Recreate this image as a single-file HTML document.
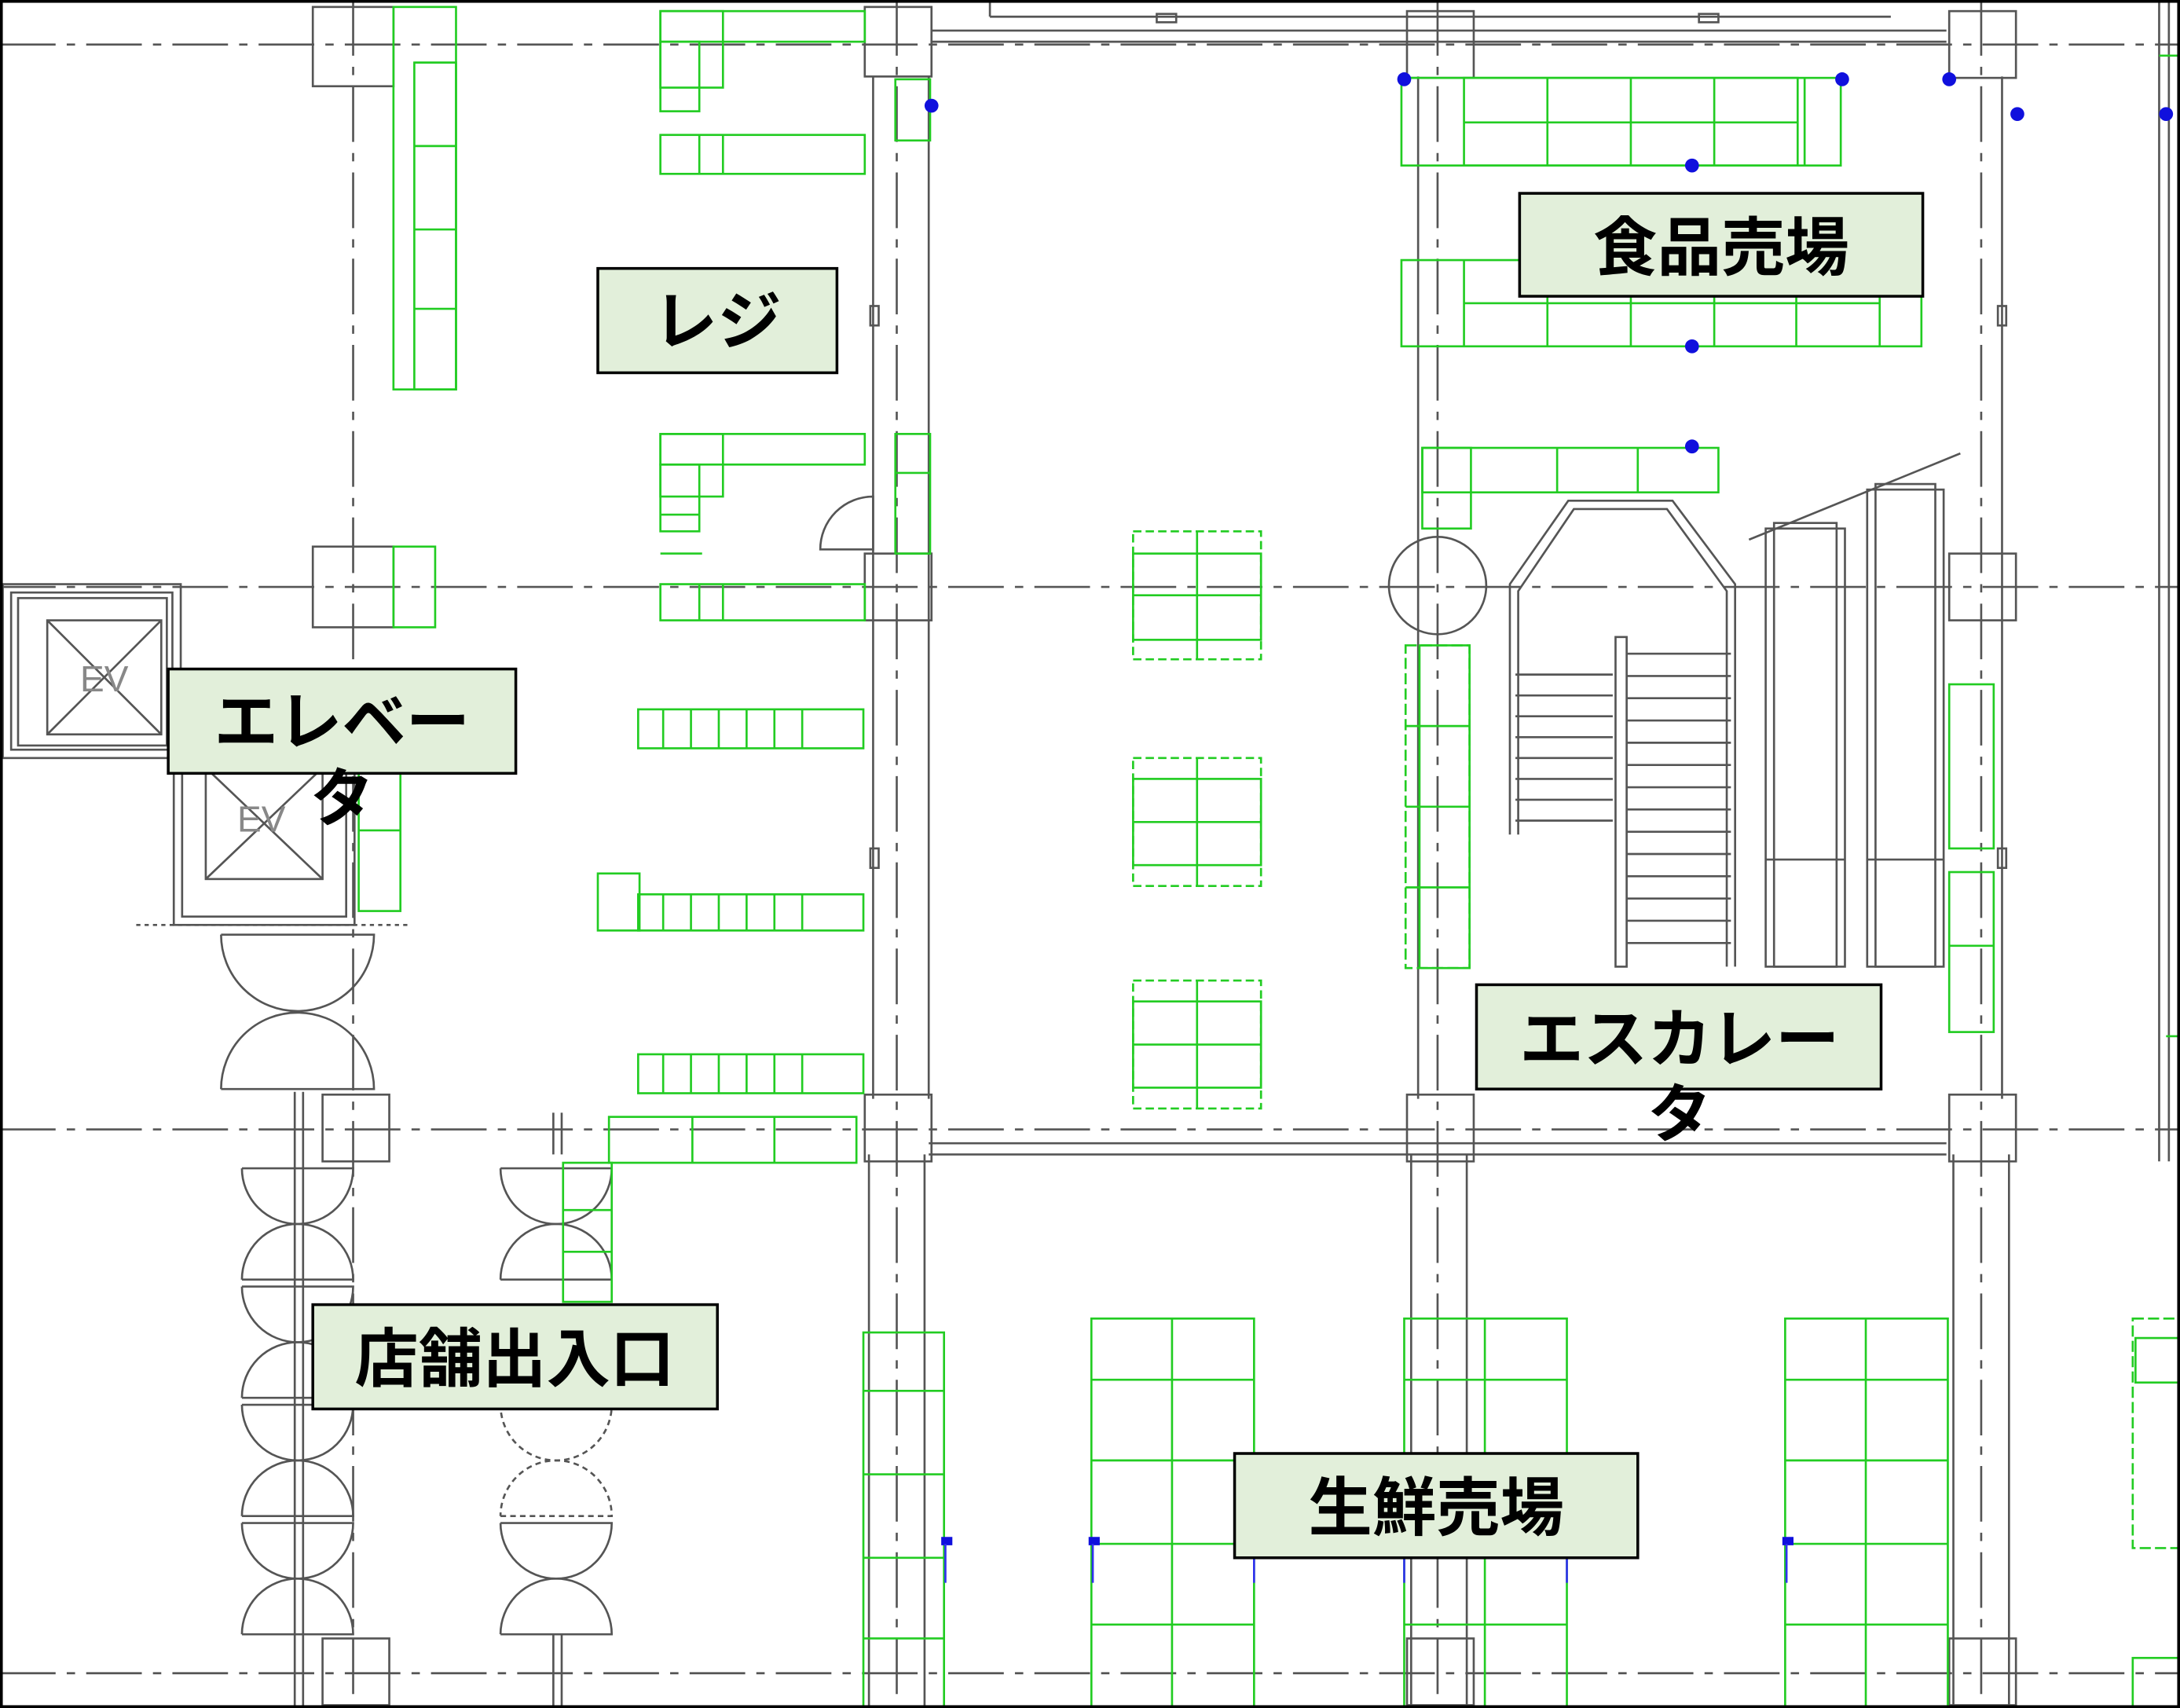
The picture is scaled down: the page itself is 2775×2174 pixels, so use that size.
<!DOCTYPE html>
<html><head><meta charset="utf-8"><style>
html,body{margin:0;padding:0;background:#fff;}
svg{display:block;}
text{font-family:"Liberation Sans","Noto Sans CJK JP",sans-serif;font-weight:bold;}
</style></head><body>
<svg width="2775" height="2174" viewBox="0 0 1568 1228" preserveAspectRatio="none" xmlns="http://www.w3.org/2000/svg">
<rect x="0" y="0" width="1568" height="1228" fill="#fff"/>
<g stroke="#555" stroke-width="1.5" stroke-dasharray="40,8,6,8" fill="none">
<line x1="0" y1="32" x2="1568" y2="32"/>
<line x1="0" y1="422" x2="1568" y2="422"/>
<line x1="0" y1="812" x2="1568" y2="812"/>
<line x1="0" y1="1203" x2="1568" y2="1203"/>
<line x1="254" y1="0" x2="254" y2="1228"/>
<line x1="645" y1="0" x2="645" y2="1228"/>
<line x1="1034" y1="0" x2="1034" y2="1228"/>
<line x1="1425" y1="0" x2="1425" y2="1228"/>
</g>
<g stroke="#555" stroke-width="1.5" fill="none">
<line x1="628" y1="55" x2="628" y2="790"/>
<line x1="668" y1="55" x2="668" y2="790"/>
<line x1="1440" y1="55" x2="1440" y2="790"/>
<line x1="1020" y1="55" x2="1020" y2="790"/>
<line x1="670" y1="30" x2="1400" y2="30"/>
<line x1="670" y1="22" x2="1400" y2="22"/>
<line x1="712" y1="0" x2="712" y2="12"/><line x1="712" y1="12" x2="1360" y2="12"/>
<rect x="832" y="10" width="14" height="6"/><rect x="1222" y="10" width="14" height="6"/>
<line x1="668" y1="822" x2="1400" y2="822"/>
<line x1="668" y1="830" x2="1400" y2="830"/>
<line x1="625" y1="830" x2="625" y2="1228"/><line x1="665" y1="830" x2="665" y2="1228"/>
<line x1="1015" y1="830" x2="1015" y2="1228"/><line x1="1055" y1="830" x2="1055" y2="1228"/>
<line x1="1405" y1="830" x2="1405" y2="1228"/><line x1="1445" y1="830" x2="1445" y2="1228"/>
<rect x="626" y="220" width="6" height="14"/><rect x="626" y="610" width="6" height="14"/>
<rect x="1437" y="220" width="6" height="14"/><rect x="1437" y="610" width="6" height="14"/>
<line x1="212" y1="785" x2="212" y2="1228"/><line x1="218" y1="785" x2="218" y2="1228"/>
<line x1="398" y1="800" x2="398" y2="830"/><line x1="404" y1="800" x2="404" y2="830"/>
<line x1="398" y1="1175" x2="398" y2="1228"/><line x1="404" y1="1175" x2="404" y2="1228"/>
<path d="M590,395 A38,38 0 0 1 628,357 L628,395 Z"/>
<line x1="1553" y1="0" x2="1553" y2="835"/><line x1="1560" y1="0" x2="1560" y2="835"/>
</g>
<g stroke="#555" stroke-width="1.5" fill="none">
<rect x="225" y="5" width="58" height="57"/><rect x="622" y="5" width="48" height="50"/>
<rect x="1012" y="8" width="48" height="48"/><rect x="1402" y="8" width="48" height="48"/>
<rect x="225" y="393" width="58" height="58"/><rect x="622" y="398" width="48" height="48"/>
<rect x="1402" y="398" width="48" height="48"/>
<rect x="232" y="787" width="48" height="48"/><rect x="622" y="787" width="48" height="48"/>
<rect x="1012" y="787" width="48" height="48"/><rect x="1402" y="787" width="48" height="48"/>
<rect x="232" y="1178" width="48" height="48"/><rect x="1012" y="1178" width="48" height="48"/>
<rect x="1402" y="1178" width="48" height="48"/>
<circle cx="1034" cy="421" r="35"/>
</g>
<g stroke="#555" stroke-width="1.5" fill="none">
<rect x="2" y="420" width="128" height="125"/><rect x="8" y="426" width="116" height="113"/><rect x="13" y="430" width="107" height="106"/>
<rect x="34" y="446" width="82" height="82"/><line x1="34" y1="446" x2="116" y2="528"/><line x1="116" y1="446" x2="34" y2="528"/>
<rect x="125" y="545" width="130" height="120"/><rect x="131" y="551" width="118" height="108"/>
<rect x="148" y="552" width="84" height="80"/><line x1="148" y1="552" x2="232" y2="632"/><line x1="232" y1="552" x2="148" y2="632"/>
<line x1="98" y1="665" x2="295" y2="665" stroke-dasharray="3,3"/>
</g>
<text x="75" y="497" font-size="26" fill="#888" text-anchor="middle" style="font-weight:normal">EV</text>
<text x="188" y="598" font-size="26" fill="#888" text-anchor="middle" style="font-weight:normal">EV</text>
<g stroke="#555" stroke-width="1.5" fill="none">
<path d="M159,672 H269 A55,55 0 0 1 159,672"/>
<path d="M159,783 H269 A55,55 0 0 0 159,783"/>
<path d="M174,840 H254 A40,40 0 0 1 174,840"/>
<path d="M174,920 H254 A40,40 0 0 0 174,920"/>
<path d="M174,925 H254 A40,40 0 0 1 174,925"/>
<path d="M174,1005 H254 A40,40 0 0 0 174,1005"/>
<path d="M174,1010 H254 A40,40 0 0 1 174,1010"/>
<path d="M174,1090 H254 A40,40 0 0 0 174,1090"/>
<path d="M174,1095 H254 A40,40 0 0 1 174,1095"/>
<path d="M174,1175 H254 A40,40 0 0 0 174,1175"/>
<path d="M360,840 H440 A40,40 0 0 1 360,840"/>
<path d="M360,920 H440 A40,40 0 0 0 360,920"/>
<path d="M360,1010 H440 A40,40 0 0 1 360,1010" stroke-dasharray="4,3"/>
<path d="M360,1090 H440 A40,40 0 0 0 360,1090" stroke-dasharray="4,3"/>
<path d="M360,1095 H440 A40,40 0 0 1 360,1095"/>
<path d="M360,1175 H440 A40,40 0 0 0 360,1175"/>
</g>
<g stroke="#555" stroke-width="1.5" fill="none">
<path d="M1086,600 V420 L1128,360 H1203 L1248,420 V695"/>
<path d="M1092,600 V425 L1132,366 H1199 L1242,425 V695"/>
<rect x="1162" y="458" width="8" height="237"/>
<g>
<line x1="1090" y1="485" x2="1160" y2="485"/><line x1="1090" y1="500" x2="1160" y2="500"/>
<line x1="1090" y1="515" x2="1160" y2="515"/><line x1="1090" y1="530" x2="1160" y2="530"/>
<line x1="1090" y1="545" x2="1160" y2="545"/><line x1="1090" y1="560" x2="1160" y2="560"/>
<line x1="1090" y1="575" x2="1160" y2="575"/><line x1="1090" y1="590" x2="1160" y2="590"/>
<line x1="1170" y1="470" x2="1245" y2="470"/><line x1="1170" y1="486" x2="1245" y2="486"/>
<line x1="1170" y1="502" x2="1245" y2="502"/><line x1="1170" y1="518" x2="1245" y2="518"/>
<line x1="1170" y1="534" x2="1245" y2="534"/><line x1="1170" y1="550" x2="1245" y2="550"/>
<line x1="1170" y1="566" x2="1245" y2="566"/><line x1="1170" y1="582" x2="1245" y2="582"/>
<line x1="1170" y1="598" x2="1245" y2="598"/><line x1="1170" y1="614" x2="1245" y2="614"/>
<line x1="1170" y1="630" x2="1245" y2="630"/><line x1="1170" y1="646" x2="1245" y2="646"/>
<line x1="1170" y1="662" x2="1245" y2="662"/><line x1="1170" y1="678" x2="1245" y2="678"/>
</g>
<line x1="1258" y1="388" x2="1410" y2="326"/>
<rect x="1270" y="380" width="57" height="315"/><rect x="1276" y="376" width="45" height="319"/>
<rect x="1343" y="352" width="55" height="343"/><rect x="1349" y="348" width="43" height="347"/>
<line x1="1270" y1="618" x2="1327" y2="618"/><line x1="1343" y1="618" x2="1398" y2="618"/>
</g>
<g stroke="#22cc22" stroke-width="1.5" fill="none">
<rect x="283" y="5" width="45" height="275"/><line x1="298" y1="45" x2="328" y2="45"/>
<rect x="298" y="45" width="30" height="235"/><line x1="298" y1="105" x2="328" y2="105"/><line x1="298" y1="165" x2="328" y2="165"/><line x1="298" y1="222" x2="328" y2="222"/>
<rect x="283" y="393" width="30" height="58"/>
<rect x="475" y="8" width="147" height="22"/><rect x="475" y="8" width="45" height="55"/><rect x="475" y="30" width="28" height="50"/>
<rect x="475" y="97" width="147" height="28"/><line x1="503" y1="97" x2="503" y2="125"/><line x1="520" y1="97" x2="520" y2="125"/>
<rect x="644" y="57" width="25" height="44"/>
<rect x="475" y="312" width="147" height="22"/><rect x="475" y="312" width="45" height="45"/><rect x="475" y="334" width="28" height="48"/><line x1="475" y1="370" x2="503" y2="370"/>
<rect x="644" y="312" width="25" height="86"/><line x1="644" y1="340" x2="669" y2="340"/>
<rect x="475" y="420" width="147" height="26"/><line x1="503" y1="420" x2="503" y2="446"/><line x1="520" y1="420" x2="520" y2="446"/>
<line x1="475" y1="398" x2="505" y2="398"/>
<rect x="459" y="510" width="162" height="28"/>
<line x1="477" y1="510" x2="477" y2="538"/><line x1="497" y1="510" x2="497" y2="538"/><line x1="517" y1="510" x2="517" y2="538"/><line x1="537" y1="510" x2="537" y2="538"/><line x1="557" y1="510" x2="557" y2="538"/><line x1="577" y1="510" x2="577" y2="538"/>
<rect x="459" y="643" width="162" height="26"/><rect x="430" y="628" width="30" height="41"/>
<line x1="477" y1="643" x2="477" y2="669"/><line x1="497" y1="643" x2="497" y2="669"/><line x1="517" y1="643" x2="517" y2="669"/><line x1="537" y1="643" x2="537" y2="669"/><line x1="557" y1="643" x2="557" y2="669"/><line x1="577" y1="643" x2="577" y2="669"/>
<rect x="459" y="758" width="162" height="28"/>
<line x1="477" y1="758" x2="477" y2="786"/><line x1="497" y1="758" x2="497" y2="786"/><line x1="517" y1="758" x2="517" y2="786"/><line x1="537" y1="758" x2="537" y2="786"/><line x1="557" y1="758" x2="557" y2="786"/><line x1="577" y1="758" x2="577" y2="786"/>
<rect x="438" y="803" width="178" height="33"/><line x1="498" y1="803" x2="498" y2="836"/><line x1="557" y1="803" x2="557" y2="836"/>
<rect x="405" y="836" width="35" height="100"/><line x1="405" y1="870" x2="440" y2="870"/><line x1="405" y1="900" x2="440" y2="900"/>
<rect x="258" y="555" width="30" height="100"/><line x1="258" y1="597" x2="288" y2="597"/>
<rect x="815" y="382" width="92" height="92" stroke-dasharray="6,3"/><rect x="815" y="398" width="92" height="62"/><line x1="861" y1="382" x2="861" y2="474"/><line x1="815" y1="428" x2="907" y2="428"/>
<rect x="815" y="545" width="92" height="92" stroke-dasharray="6,3"/><rect x="815" y="560" width="92" height="62"/><line x1="861" y1="545" x2="861" y2="637"/><line x1="815" y1="591" x2="907" y2="591"/>
<rect x="815" y="705" width="92" height="92" stroke-dasharray="6,3"/><rect x="815" y="720" width="92" height="62"/><line x1="861" y1="705" x2="861" y2="797"/><line x1="815" y1="751" x2="907" y2="751"/>
<rect x="1008" y="56" width="316" height="63"/><rect x="1053" y="56" width="240" height="63"/><line x1="1053" y1="88" x2="1293" y2="88"/>
<line x1="1113" y1="56" x2="1113" y2="119"/><line x1="1173" y1="56" x2="1173" y2="119"/><line x1="1233" y1="56" x2="1233" y2="119"/><line x1="1298" y1="56" x2="1298" y2="119"/>
<rect x="1008" y="187" width="374" height="62"/><line x1="1053" y1="187" x2="1053" y2="249"/><line x1="1053" y1="218" x2="1352" y2="218"/>
<line x1="1113" y1="213" x2="1113" y2="249"/><line x1="1173" y1="213" x2="1173" y2="249"/><line x1="1233" y1="213" x2="1233" y2="249"/><line x1="1292" y1="213" x2="1292" y2="249"/><line x1="1352" y1="213" x2="1352" y2="249"/>
<rect x="1023" y="322" width="213" height="32"/><rect x="1023" y="322" width="35" height="58"/><line x1="1120" y1="322" x2="1120" y2="354"/><line x1="1178" y1="322" x2="1178" y2="354"/>
<rect x="1011" y="464" width="46" height="232" stroke-dasharray="8,3"/><rect x="1021" y="464" width="36" height="232"/>
<line x1="1011" y1="522" x2="1057" y2="522"/><line x1="1011" y1="580" x2="1057" y2="580"/><line x1="1011" y1="638" x2="1057" y2="638"/>
<rect x="1402" y="492" width="32" height="118"/><rect x="1402" y="627" width="32" height="115"/><line x1="1402" y1="680" x2="1434" y2="680"/>
<line x1="1553" y1="40" x2="1568" y2="40"/><line x1="1558" y1="745" x2="1568" y2="745"/>
<rect x="621" y="958" width="58" height="270"/><line x1="621" y1="1000" x2="679" y2="1000"/><line x1="621" y1="1060" x2="679" y2="1060"/><line x1="621" y1="1120" x2="679" y2="1120"/><line x1="621" y1="1178" x2="679" y2="1178"/>
<rect x="785" y="948" width="117" height="280"/><line x1="843" y1="948" x2="843" y2="1228"/>
<line x1="785" y1="992" x2="902" y2="992"/><line x1="785" y1="1050" x2="902" y2="1050"/><line x1="785" y1="1110" x2="902" y2="1110"/><line x1="785" y1="1168" x2="902" y2="1168"/>
<rect x="1010" y="948" width="117" height="280"/><line x1="1068" y1="948" x2="1068" y2="1228"/>
<line x1="1010" y1="992" x2="1127" y2="992"/><line x1="1010" y1="1050" x2="1127" y2="1050"/><line x1="1010" y1="1110" x2="1127" y2="1110"/><line x1="1010" y1="1168" x2="1127" y2="1168"/>
<rect x="1284" y="948" width="117" height="280"/><line x1="1342" y1="948" x2="1342" y2="1228"/>
<line x1="1284" y1="992" x2="1401" y2="992"/><line x1="1284" y1="1050" x2="1401" y2="1050"/><line x1="1284" y1="1110" x2="1401" y2="1110"/><line x1="1284" y1="1168" x2="1401" y2="1168"/>
<rect x="1534" y="948" width="34" height="165" stroke-dasharray="8,3"/><rect x="1536" y="962" width="32" height="32"/>
<rect x="1534" y="1192" width="34" height="36"/>
</g>
<g fill="#1010dd">
<circle cx="670" cy="76" r="5"/><circle cx="1010" cy="57" r="5"/><circle cx="1325" cy="57" r="5"/>
<circle cx="1402" cy="57" r="5"/><circle cx="1451" cy="82" r="5"/><circle cx="1558" cy="82" r="5"/>
<circle cx="1217" cy="119" r="5"/><circle cx="1217" cy="249" r="5"/><circle cx="1217" cy="321" r="5"/>
<rect x="677" y="1105" width="8" height="6"/><rect x="783" y="1105" width="8" height="6"/><rect x="1282" y="1105" width="8" height="6"/>
</g>
<g stroke="#3030ee" stroke-width="1.5">
<line x1="680" y1="1110" x2="680" y2="1138"/><line x1="786" y1="1110" x2="786" y2="1138"/><line x1="1285" y1="1110" x2="1285" y2="1138"/>
<line x1="902" y1="1120" x2="902" y2="1138"/><line x1="1010" y1="1120" x2="1010" y2="1138"/><line x1="1127" y1="1120" x2="1127" y2="1138"/>
</g>
<rect x="1" y="1" width="1566" height="1226" fill="none" stroke="#000" stroke-width="2"/>
<g stroke="#000" stroke-width="2" fill="#e2efda">
<rect x="430" y="193" width="172" height="75"/>
<rect x="1093" y="139" width="290" height="74"/>
<rect x="121" y="481" width="250" height="75"/>
<rect x="1062" y="708" width="291" height="75"/>
<rect x="225" y="938" width="291" height="75"/>
<rect x="888" y="1045" width="290" height="75"/>
</g>
<g fill="#000" font-size="46" text-anchor="middle">
<text x="516" y="247">レジ</text>
<text x="1238" y="194">食品売場</text>
<text x="246" y="535">エレベー</text>
<text x="246" y="590">タ</text>
<text x="1208" y="763">エスカレー</text>
<text x="1208" y="817">タ</text>
<text x="370" y="993">店舗出入口</text>
<text x="1033" y="1100">生鮮売場</text>
</g>
</svg>
</body></html>
